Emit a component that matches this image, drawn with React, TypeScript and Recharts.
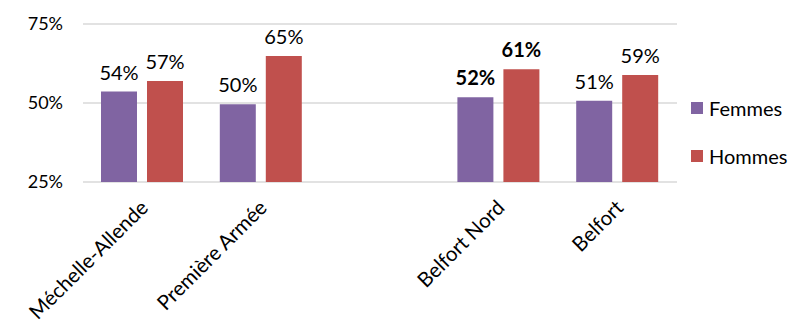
import { Bar, BarChart, CartesianGrid, LabelList, Legend, XAxis, YAxis } from "recharts";

const categories = ["Méchelle-Allende", "Première Armée", "", "Belfort Nord", "Belfort"];
const femmes = [53.6, 49.6, null, 51.8, 50.7];
const hommes = [57.0, 64.9, null, 60.7, 58.9];
const yTicks = [25, 50, 75];
const boldCategory = "Belfort Nord";

const FONT = "Lato, sans-serif";
const PURPLE = "#8064A2";
const RED = "#C0504D";

const data = categories.map((name, i) => ({ name, femmes: femmes[i], hommes: hommes[i] }));
// LabelList skips empty entries, so index into the filled categories only
const filled = categories.filter((_, i) => femmes[i] != null);

function XTick({ x, y, payload }: any) {
  const tx = x + 7;
  const ty = y + 19;
  return (
    <text
      x={tx}
      y={ty}
      transform={`rotate(-45 ${tx} ${ty})`}
      textAnchor="end"
      fontFamily={FONT}
      fontSize={20.5}
      fill="#000"
    >
      {payload.value}
    </text>
  );
}

function makeLabel(key: "femmes" | "hommes") {
  return function ValueLabel(props: any) {
    const { x, y, width, value, index } = props;
    if (value == null) return null;
    const bold = filled[index] === boldCategory;
    return (
      <text
        key={`${key}-${index}`}
        x={x + width / 2}
        y={y - 12}
        textAnchor="middle"
        fontFamily={FONT}
        fontSize={20}
        fontWeight={bold ? 700 : 400}
        fill="#000"
      >
        {Math.round(value)}%
      </text>
    );
  };
}

function LegendBox() {
  const items = [
    { name: "Femmes", color: PURPLE },
    { name: "Hommes", color: RED },
  ];
  return (
    <div style={{ fontFamily: FONT, fontSize: 20, color: "#000" }}>
      {items.map((it) => (
        <div key={it.name} style={{ display: "flex", alignItems: "center", height: 48 }}>
          <span style={{ width: 12, height: 12, background: it.color, marginRight: 6 }} />
          {it.name}
        </div>
      ))}
    </div>
  );
}

export default function App() {
  return (
    <div style={{ position: "absolute", left: 0, top: 0, background: "#fff" }}>
      <BarChart
        width={791}
        height={322}
        data={data}
        margin={{ top: 24, right: 14, bottom: 0, left: 0 }}
        barCategoryGap={18}
        barGap={10}
      >
        <CartesianGrid vertical={false} stroke="#d9d9d9" strokeWidth={1.5} />
        <XAxis
          dataKey="name"
          interval={0}
          height={140}
          axisLine={false}
          tickLine={false}
          tick={<XTick />}
        />
        <YAxis
          width={83}
          domain={[25, 75]}
          ticks={yTicks}
          tickFormatter={(v) => `${v}%`}
          axisLine={false}
          tickLine={false}
          tickSize={0}
          tickMargin={20}
          tick={{ fontFamily: FONT, fontSize: 18, fill: "#000" }}
        />
        <Legend
          layout="vertical"
          align="right"
          verticalAlign="top"
          content={<LegendBox />}
          wrapperStyle={{ left: 691, top: 84, width: 100 }}
        />
        <Bar dataKey="femmes" name="Femmes" fill={PURPLE} isAnimationActive={false}>
          <LabelList dataKey="femmes" content={makeLabel("femmes")} />
        </Bar>
        <Bar dataKey="hommes" name="Hommes" fill={RED} isAnimationActive={false}>
          <LabelList dataKey="hommes" content={makeLabel("hommes")} />
        </Bar>
      </BarChart>
    </div>
  );
}
